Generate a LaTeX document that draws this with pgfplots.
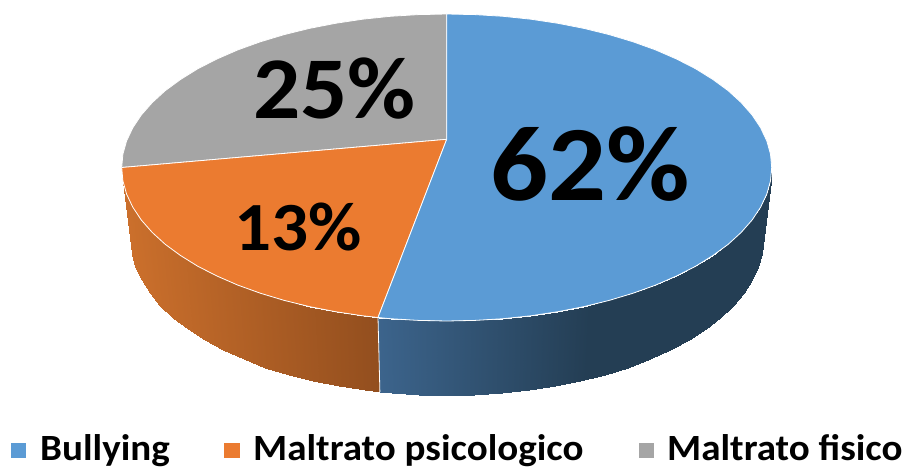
\documentclass[border=0pt]{standalone}
\usepackage{pgfplots}
\pgfplotsset{compat=1.18}
\usepackage{fontspec}
\setmainfont{Carlito}
\definecolor{cblue}{HTML}{5B9BD5}
\definecolor{corange}{HTML}{EB7B30}
\definecolor{cgray}{HTML}{A5A5A5}
\begin{document}
\begin{tikzpicture}
\useasboundingbox (0,0) rectangle (904pt,468pt);
\begin{axis}[
  at={(0,0)},anchor=south west,
  scale only axis,width=904pt,height=468pt,
  xmin=0,xmax=904,ymin=0,ymax=468,y dir=reverse,
  hide axis,clip=false,
  point meta min=120,point meta max=1780,
  colormap={pieside}{
    rgb255(120)=(204,112,44)
    rgb255(380)=(146,78,30)
    rgb255(1378)=(60,100,140)
    rgb255(1590)=(36,62,84)
    rgb255(1780)=(36,62,84)
  },
]
% side of the orange slice
\addplot[surf,shader=interp,mesh/rows=2,point meta=explicit] table[meta=m] {
x y m
121.7 167.5 121.7
122.9 180.9 122.9
126.6 194.1 126.6
132.8 207.2 132.8
141.3 220.0 141.3
152.2 232.4 152.2
165.2 244.3 165.2
180.5 255.5 180.5
197.7 266.2 197.7
216.9 276.0 216.9
237.8 285.1 237.8
260.3 293.2 260.3
284.2 300.4 284.2
309.4 306.6 309.4
335.5 311.7 335.5
362.6 315.8 362.6
378.0 317.5 378.0
130.7 240.0 121.7
131.9 253.6 122.9
135.5 267.0 126.6
141.5 280.3 132.8
149.8 293.3 141.3
160.3 305.8 152.2
173.0 317.9 165.2
187.8 329.3 180.5
204.6 340.1 197.7
223.3 350.1 216.9
243.6 359.3 237.8
265.4 367.5 260.3
288.7 374.8 284.2
313.2 381.1 309.4
338.6 386.3 335.5
364.9 390.4 362.6
379.9 392.2 378.0
};
% side of the blue slice
\addplot[surf,shader=interp,mesh/rows=2,point meta=explicit] table[meta=m] {
x y m
378.0 317.5 1378.0
390.3 318.7 1390.3
418.4 320.4 1418.4
446.7 321.0 1446.7
475.0 320.4 1475.0
503.1 318.7 1503.1
530.8 315.8 1530.8
557.9 311.7 1557.9
584.0 306.6 1584.0
609.2 300.4 1609.2
633.1 293.2 1633.1
655.6 285.1 1655.6
676.5 276.0 1676.5
695.7 266.2 1695.7
712.9 255.5 1712.9
728.2 244.3 1728.2
741.2 232.4 1741.2
752.1 220.0 1752.1
760.6 207.2 1760.6
766.8 194.1 1766.8
770.5 180.9 1770.5
771.7 167.5 1771.7
379.9 392.2 1378.0
391.8 393.3 1390.3
419.1 395.1 1418.4
446.7 395.7 1446.7
474.3 395.1 1475.0
501.6 393.3 1503.1
528.5 390.4 1530.8
554.8 386.3 1557.9
580.2 381.1 1584.0
604.7 374.8 1609.2
628.0 367.5 1633.1
649.8 359.3 1655.6
670.1 350.1 1676.5
688.8 340.1 1695.7
705.6 329.3 1712.9
720.4 317.9 1728.2
733.1 305.8 1741.2
743.6 293.3 1752.1
751.9 280.3 1760.6
757.9 267.0 1766.8
761.5 253.6 1770.5
762.7 240.0 1771.7
};
% seam between the two sides
\addplot[white,line width=0.8pt] coordinates {(378.0,317.5) (379.9,392.2)};
% top: grey slice (25%)
\addplot[fill=cgray,draw=white,line width=0.8pt,line join=round] coordinates {
(446.7,139.3) (446.7,14.0) (418.4,14.6) (390.3,16.3) (362.6,19.2) (335.5,23.3)
(309.4,28.4) (284.2,34.6) (260.3,41.8) (237.8,49.9) (216.9,59.0) (197.7,68.8)
(180.5,79.5) (165.2,90.7) (152.2,102.6) (141.3,115.0) (132.8,127.8) (126.6,140.9)
(122.9,154.1) (121.7,167.5)} -- cycle;
% top: orange slice (13%)
\addplot[fill=corange,draw=white,line width=0.8pt,line join=round] coordinates {
(446.7,139.3) (121.7,167.5) (122.9,180.9) (126.6,194.1) (132.8,207.2) (141.3,220.0)
(152.2,232.4) (165.2,244.3) (180.5,255.5) (197.7,266.2) (216.9,276.0) (237.8,285.1)
(260.3,293.2) (284.2,300.4) (309.4,306.6) (335.5,311.7) (362.6,315.8) (378.0,317.5)} -- cycle;
% top: blue slice (62%)
\addplot[fill=cblue,draw=white,line width=0.8pt,line join=round] coordinates {
(446.7,139.3) (378.0,317.5) (390.3,318.7) (418.4,320.4) (446.7,321.0) (475.0,320.4)
(503.1,318.7) (530.8,315.8) (557.9,311.7) (584.0,306.6) (609.2,300.4) (633.1,293.2)
(655.6,285.1) (676.5,276.0) (695.7,266.2) (712.9,255.5) (728.2,244.3) (741.2,232.4)
(752.1,220.0) (760.6,207.2) (766.8,194.1) (770.5,180.9) (771.7,167.5) (770.5,154.1)
(766.8,140.9) (760.6,127.8) (752.1,115.0) (741.2,102.6) (728.2,90.7) (712.9,79.5)
(695.7,68.8) (676.5,59.0) (655.6,49.9) (633.1,41.8) (609.2,34.6) (584.0,28.4)
(557.9,23.3) (530.8,19.2) (503.1,16.3) (475.0,14.6) (446.7,14.0)} -- cycle;
% legend swatches
\addplot[fill=cblue,draw=none] coordinates {(11,443) (26,443) (26,458) (11,458)} -- cycle;
\addplot[fill=corange,draw=none] coordinates {(224,443) (240,443) (240,458) (224,458)} -- cycle;
\addplot[fill=cgray,draw=none] coordinates {(639,443) (654,443) (654,458) (639,458)} -- cycle;
% labels
\node[transform shape,xscale=1.07,anchor=base,inner sep=0pt,font=\fontsize{107}{107}\selectfont\bfseries] at (axis cs:590,200) {62\%};
\node[transform shape,xscale=1.06,anchor=base,inner sep=0pt,font=\fontsize{88}{88}\selectfont\bfseries] at (axis cs:334.5,118) {25\%};
\node[transform shape,xscale=1.06,anchor=base,inner sep=0pt,font=\fontsize{69}{69}\selectfont\bfseries] at (axis cs:298,250) {13\%};
\node[transform shape,xscale=1.055,anchor=base west,inner sep=0pt,font=\fontsize{37}{37}\selectfont\bfseries] at (axis cs:40,460.5) {Bullying};
\node[transform shape,xscale=1.055,anchor=base west,inner sep=0pt,font=\fontsize{37}{37}\selectfont\bfseries] at (axis cs:253,460.5) {Maltrato psicologico};
\node[transform shape,xscale=1.055,anchor=base west,inner sep=0pt,font=\fontsize{37}{37}\selectfont\bfseries] at (axis cs:667,460.5) {Maltrato fisico};
\end{axis}
\end{tikzpicture}
\end{document}
